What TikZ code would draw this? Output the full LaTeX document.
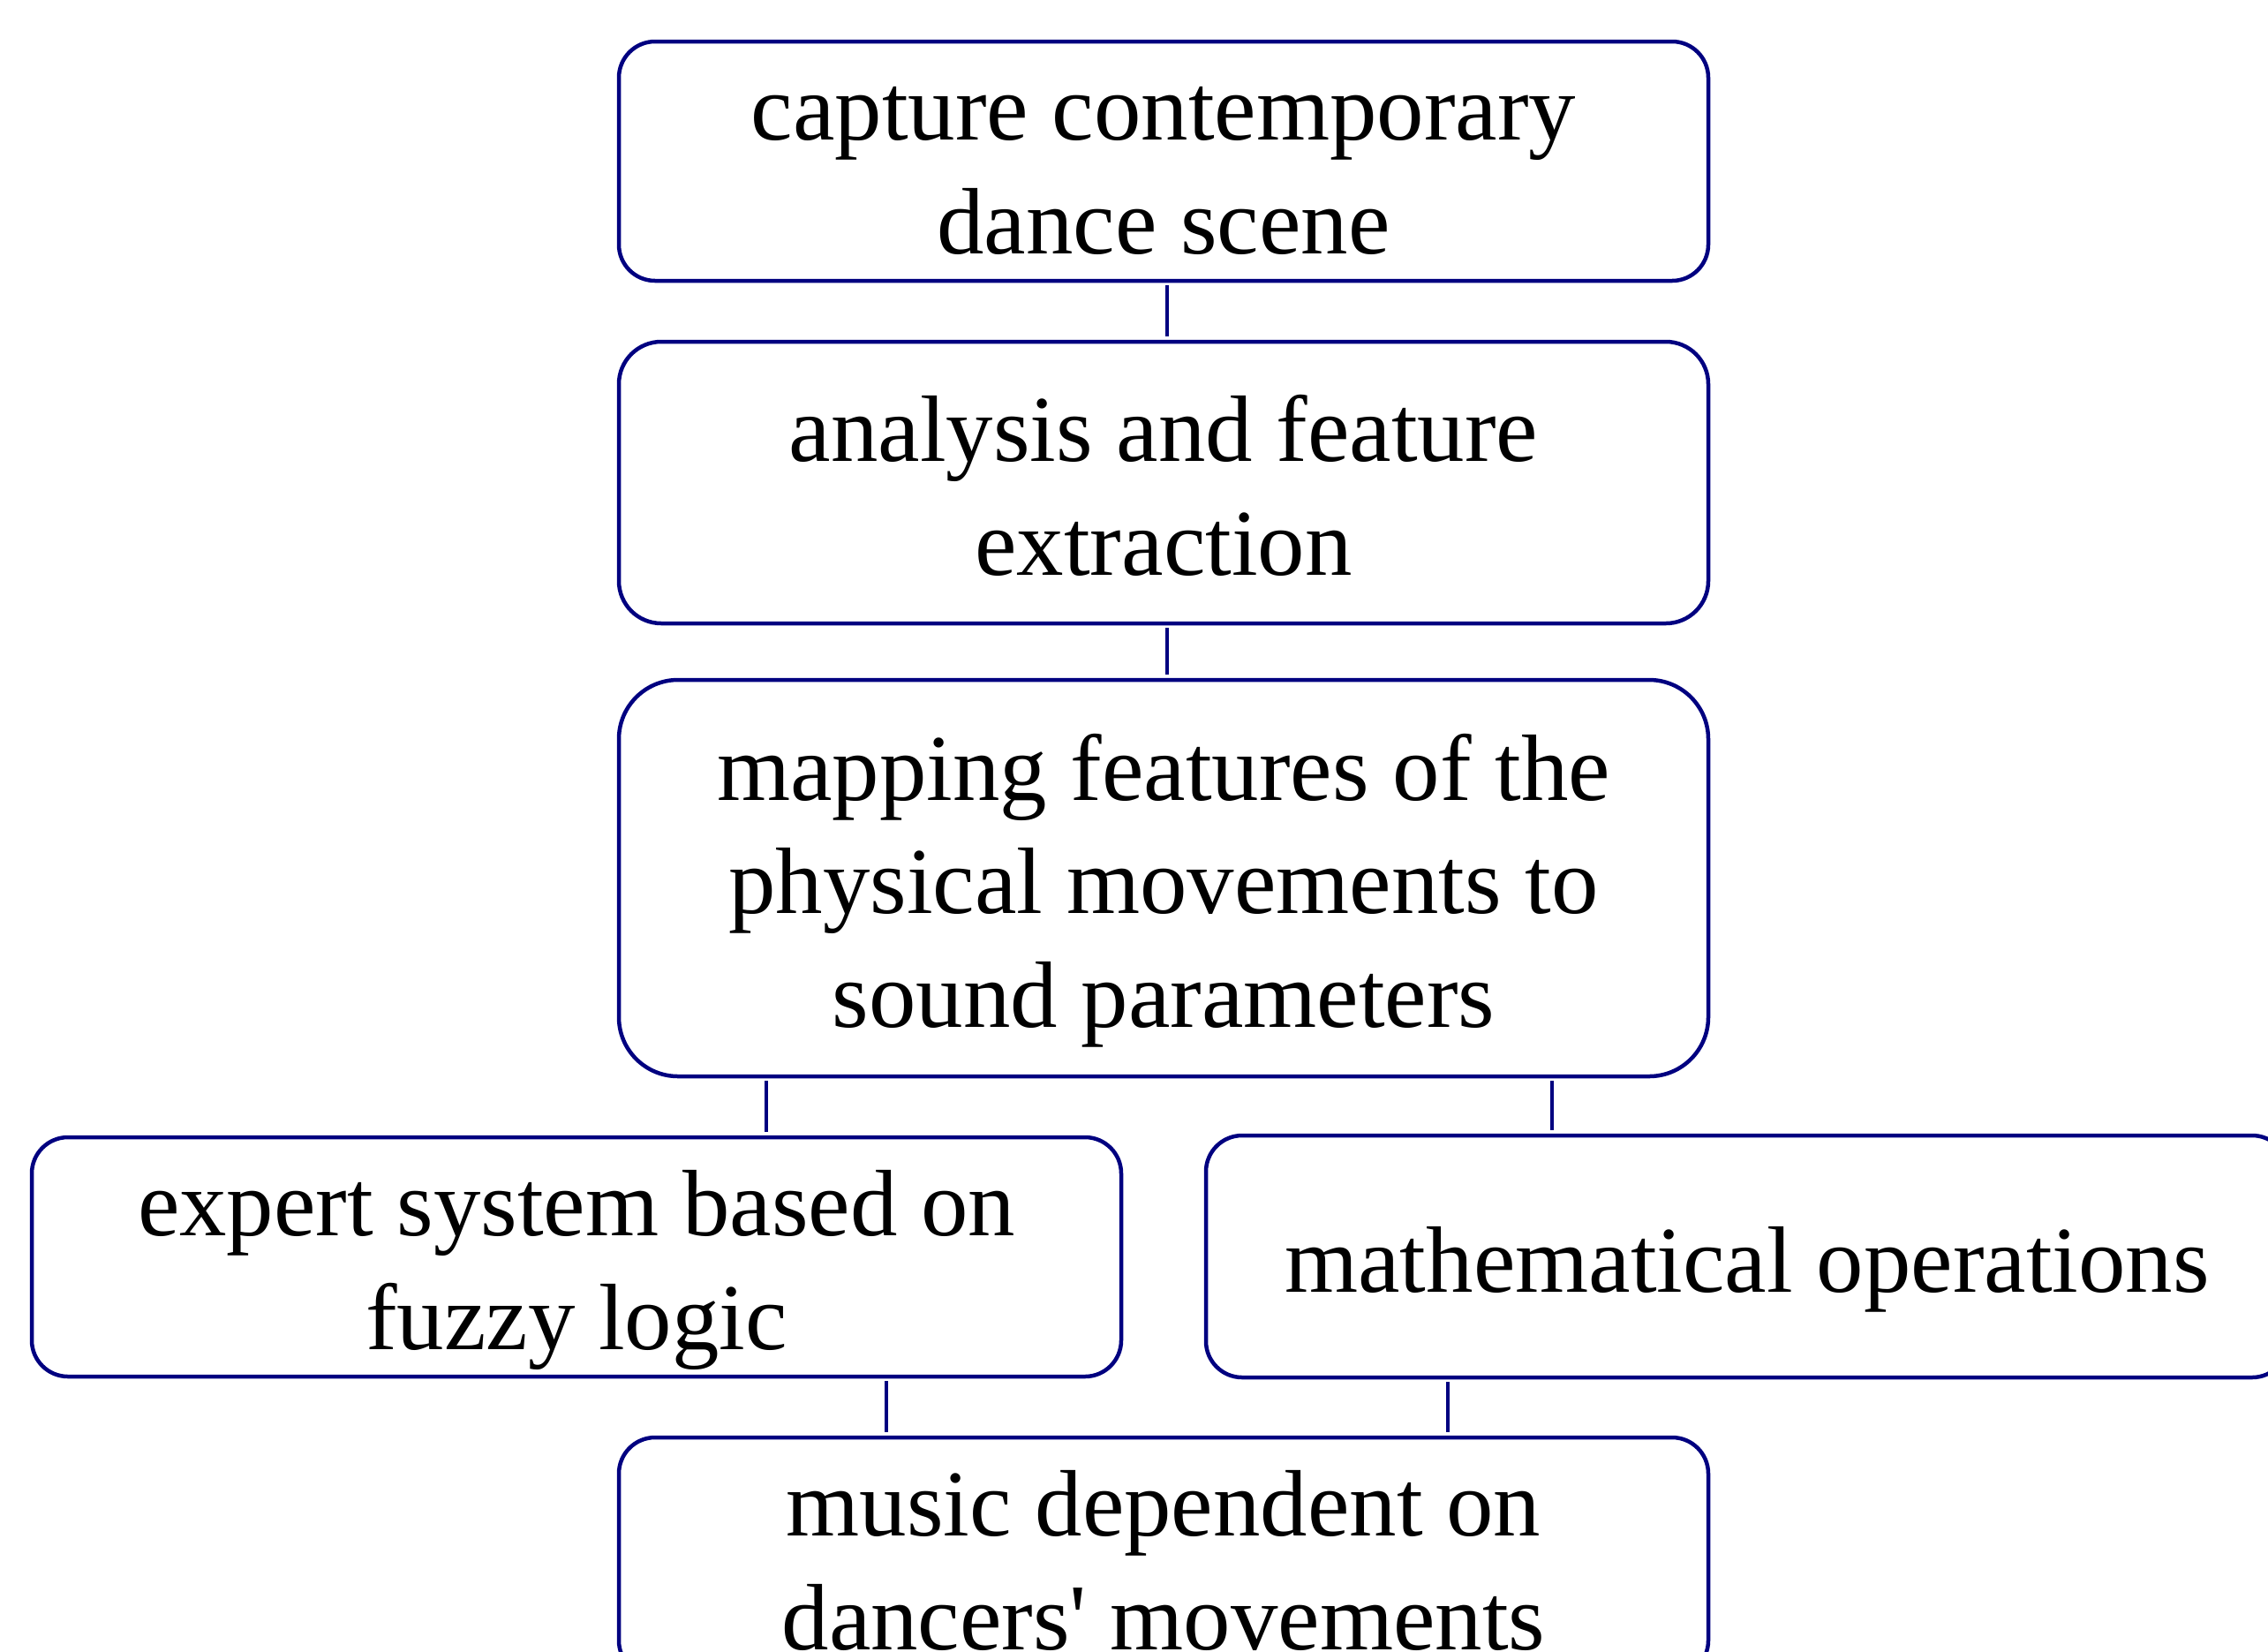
\documentclass[tikz,border=0pt]{standalone}
\usepackage{fontspec}
\setmainfont{Liberation Serif}
\usepackage{tikz}
\usetikzlibrary{positioning,calc}

\definecolor{navyline}{RGB}{0,0,128}
% strut for the first line of every box
\newcommand{\topstrut}{\rule{0pt}{30pt}}

\tikzset{
  stage/.style={draw=navyline, line width=0.045cm, align=center,
    minimum width=12.34cm, minimum height=2.71cm, inner sep=0pt,
    outer sep=0pt, rounded corners=0.41cm,
    font=\fontsize{30.4}{36.5}\selectfont,
    execute at end node={\rule[-7pt]{0pt}{7pt}}},
  link/.style={draw=navyline, line width=0.045cm,
    shorten <=0.05cm, shorten >=0.06cm}
}

\begin{document}
\begin{tikzpicture}
  \useasboundingbox (0,0) rectangle (25.69,-18.70);
  %main column
  \node[stage] (cap) at (13.18,-1.825) {\topstrut capture contemporary\\dance scene};
  \node[stage, below =0.69cm of cap, minimum height=3.19cm,
    rounded corners=0.48cm] (ana) {\topstrut analysis and feature\\extraction};
  \node[stage, below =0.64cm of ana, minimum height=4.49cm,
    rounded corners=0.67cm] (map)
    {\topstrut mapping features of the\\physical movements to\\sound parameters};
  %the two branches
  \node[stage, anchor=north] (exp) at($(map.south)+(-6.65,-0.69)$)
    {\topstrut expert system based on\\fuzzy logic};
  \node[stage, anchor=north, minimum width=12.26cm, minimum height=2.74cm]
    (math) at($(map.south)+(6.61,-0.67)$) {\topstrut mathematical operations};
  %joined again below
  \node[stage, below =0.69cm of exp.south -| map.south] (mus)
    {\topstrut music dependent on\\dancers\textquotesingle{} movements};
  %short links (not centred on the boxes)
  \draw[link] ([xshift=0.04cm]cap.south) -- ([xshift=0.04cm]ana.north);
  \draw[link] ([xshift=0.04cm]ana.south) -- ([xshift=0.04cm]map.north);
  \draw[link] ([xshift=-4.50cm]map.south) -- ([xshift=-4.50cm]map.south |- exp.north);
  \draw[link] ([xshift=4.40cm]map.south) -- ([xshift=4.40cm]map.south |- math.north);
  \draw[link] ([xshift=3.51cm]exp.south) -- ([xshift=3.51cm]exp.south |- mus.north);
  \draw[link] ([xshift=-3.39cm]math.south) -- ([xshift=-3.39cm]math.south |- mus.north);
\end{tikzpicture}
\end{document}
